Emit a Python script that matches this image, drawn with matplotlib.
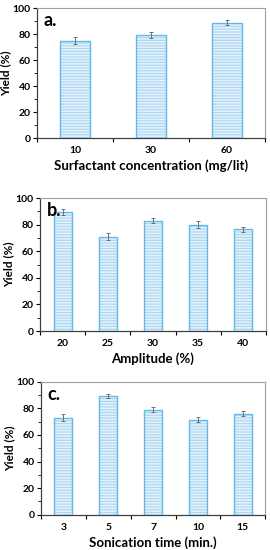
import matplotlib.pyplot as plt
import numpy as np
from matplotlib.ticker import MultipleLocator

plt.rcParams["font.family"] = ["Lato", "DejaVu Sans"]
plt.rcParams["font.weight"] = "bold"
plt.rcParams["hatch.linewidth"] = 0.8

# panel a
surf_labels = ["10", "30", "60"]
surf_yield = [75, 79.5, 89]
surf_err = [2.5, 2.5, 2]

# panel b
amp_labels = ["20", "25", "30", "35", "40"]
amp_yield = [89.5, 71, 83, 80, 76.5]
amp_err = [2, 2.5, 2, 2.5, 2]

# panel c
son_labels = ["3", "5", "7", "10", "15"]
son_yield = [73, 89, 79, 71.5, 76]
son_err = [2.5, 1.5, 1.8, 1.8, 2]

FACE = "#e3f1fa"
HATCH = "#a9d6f2"
EDGE = "#62b8e8"


def draw_panel(ax, labels, values, errs, xlabel, tag):
    n = len(labels)
    x = np.arange(n)
    ax.bar(x, values, width=0.4, color=FACE, edgecolor=HATCH, hatch="------",
           linewidth=0, zorder=2)
    ax.bar(x, values, width=0.4, fill=False, edgecolor=EDGE, linewidth=1.0,
           zorder=3)
    ax.errorbar(x, values, yerr=errs, fmt="none", ecolor="#707070",
                elinewidth=0.7, capsize=1.5, capthick=0.7, zorder=4)

    ax.set_xlim(-0.5, n - 0.5)
    ax.set_ylim(0, 100)
    ax.set_xticks(x)
    ax.set_xticklabels(labels, fontsize=7.5, fontweight="bold")
    ax.tick_params(axis="x", length=0, pad=6)
    ax.set_xticks(np.arange(n + 1) - 0.5, minor=True)
    ax.tick_params(axis="x", which="minor", length=3, direction="out", width=0.8)

    ax.yaxis.set_major_locator(MultipleLocator(20))
    ax.yaxis.set_minor_locator(MultipleLocator(10))
    ax.tick_params(axis="y", which="major", length=3, width=0.8, labelsize=7.5, pad=1.5)
    ax.tick_params(axis="y", which="minor", length=2, width=0.6)
    for lab in ax.get_yticklabels():
        lab.set_fontweight("bold")

    ax.set_ylabel("Yield (%)", fontsize=8.5, fontweight="bold", labelpad=1)
    ax.set_xlabel(xlabel, fontsize=9.5, fontweight="bold", labelpad=3)

    for side in ["left", "bottom"]:
        ax.spines[side].set_color("#404040")
        ax.spines[side].set_linewidth(0.9)
    for side in ["top", "right"]:
        ax.spines[side].set_color("#a0a0a0")
        ax.spines[side].set_linewidth(0.8)

    ax.text(0.03, 0.97, tag, transform=ax.transAxes, fontsize=13,
            fontweight="bold", va="top", ha="left", zorder=5)


fig = plt.figure(figsize=(2.7, 5.5), dpi=100)
ax_a = fig.add_axes([0.137, 0.749, 0.844, 0.236])
ax_b = fig.add_axes([0.148, 0.398, 0.837, 0.242])
ax_c = fig.add_axes([0.152, 0.064, 0.830, 0.242])

draw_panel(ax_a, surf_labels, surf_yield, surf_err,
           "Surfactant concentration (mg/lit)", "a.")
draw_panel(ax_b, amp_labels, amp_yield, amp_err, "Amplitude (%)", "b.")
draw_panel(ax_c, son_labels, son_yield, son_err, "Sonication time (min.)", "c.")

fig.savefig("out.png", dpi=100)
